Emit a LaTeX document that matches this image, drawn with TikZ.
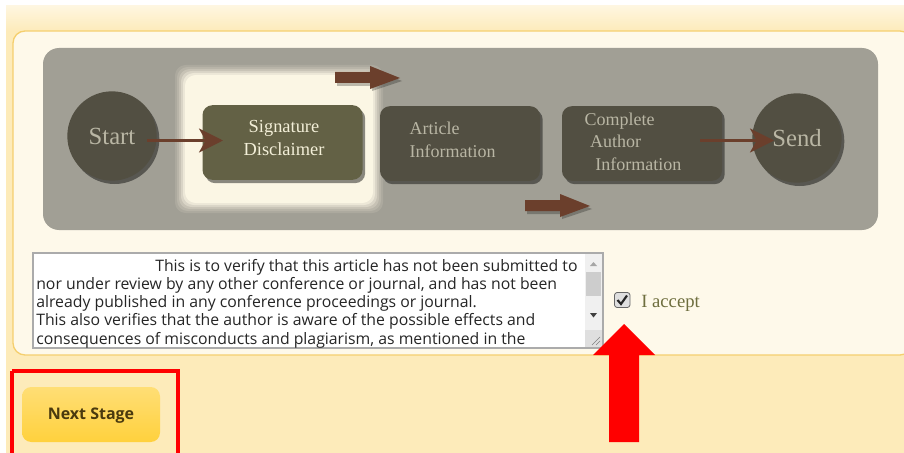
\documentclass[tikz,border=0pt]{standalone}
\usepackage{fontspec}
\setmainfont{Liberation Serif}
\newfontfamily\uifont{Open Sans}
\usetikzlibrary{arrows.meta,shadows,shapes.geometric}
\definecolor{bgyel}{HTML}{FDEBBA}
\definecolor{bandtop}{HTML}{FEF6E0}
\definecolor{panelfill}{HTML}{FEF9EA}
\definecolor{panelline}{HTML}{F5CF6E}
\definecolor{greybg}{HTML}{A19F95}
\definecolor{darkshape}{HTML}{524F42}
\definecolor{olive}{HTML}{636145}
\definecolor{greytext}{HTML}{B9B6A4}
\definecolor{creamtext}{HTML}{F3EFD8}
\definecolor{arrowbrown}{HTML}{6B3F2C}
\definecolor{glow}{HTML}{FDF8E6}
\definecolor{acceptcol}{HTML}{6E6E3E}
\definecolor{btntop}{HTML}{FFDE75}
\definecolor{btnbot}{HTML}{FFD13D}
\definecolor{btntext}{HTML}{4A3A0E}
\definecolor{taborder}{HTML}{ABABAB}
\definecolor{scrollbg}{HTML}{F0F0F0}
\definecolor{thumb}{HTML}{CDCDCD}
\tikzset{
  stage/.style={draw=none, fill=darkshape, rounded corners=7.5pt, minimum width=120pt, minimum height=56pt,
    drop shadow={shadow xshift=2pt, shadow yshift=-2.5pt, opacity=0.45, fill=black}},
  roundstage/.style={circle, fill=darkshape, minimum size=67pt, inner sep=0pt,
    drop shadow={shadow xshift=2pt, shadow yshift=-2.5pt, opacity=0.45, fill=black}},
  stagetext/.style={text=greytext, font=\fontsize{13.5}{17}\selectfont},
  thinarrow/.style={draw=arrowbrown, line width=2.2pt, -{Stealth[length=18pt, width=18pt, inset=5pt]}},
  fatarrow/.style={fill=arrowbrown, draw=none},
  tatext/.style={font=\uifont\fontsize{11.85}{13.6}\selectfont, text=black!85, anchor=west, inner sep=0pt},
}
\begin{document}
\begin{tikzpicture}[x=0.75pt, y=-0.75pt]
\useasboundingbox (0,0) rectangle (904,453);
% page background
\fill[white] (0,0) rectangle (904,453);
\fill[bgyel] (6,6) rectangle (904,453);
\shade[top color=bandtop, bottom color=bgyel] (6,6) rectangle (904,31);
% panel
\draw[panelline, line width=1pt, fill=panelfill, rounded corners=9pt] (13,31) rectangle (912,355);
% grey diagram area
\fill[greybg, rounded corners=12pt] (43,48) rectangle (878,230);
% glow behind current stage
\foreach \d/\o in {10/0.12,8/0.15,6/0.22,4/0.35,2/0.55,0/0.9}
  \fill[glow, opacity=\o, rounded corners=8pt] (185-\d,75-\d) rectangle (373+\d,203+\d);
% stages
\node[roundstage] (start) at (112,136) {};
\node[stagetext, font=\fontsize{18.5}{20}\selectfont] at (start) {Start};
\node[stage, fill=olive] (sig) at (282.5,142.5) {};
\node[text=creamtext, font=\fontsize{13.8}{17.5}\selectfont, align=center] (sigtext) at (284,138) {Signature\\Disclaimer};
\node[stage] (art) at (460,143.5) {};
\node[stagetext, align=left, anchor=west] (arttext) at (405,140) {Article\\Information};
\node[stage] (comp) at (642,143.5) {};
\node[stagetext, align=left, anchor=north west] (comptext) at (580,108) {Complete\\\hspace*{4pt}Author\\\hspace*{8pt}Information};
\node[roundstage] (send) at (797,138) {};
\node[stagetext, font=\fontsize{18.5}{20}\selectfont] at (send) {Send};
% connectors
\coordinate (a1s) at (147,140.5);
\coordinate (a1e) at (223,140.5);
\draw[thinarrow] (a1s) -- (a1e);
\coordinate (a2s) at (700,140.5);
\coordinate (a2e) at (774,140.5);
\draw[thinarrow] (a2s) -- (a2e);
% thick arrows
\fill[black, opacity=0.25] (337,75) -- (372,75) -- (372,69) -- (402,81) -- (372,91) -- (372,86) -- (337,86) -- cycle;
\fill[fatarrow] (335,72) -- (370,72) -- (370,66) -- (400,78) -- (370,89) -- (370,83) -- (335,83) -- cycle;
\fill[black, opacity=0.25] (527,203) -- (562,203) -- (562,197) -- (592,209) -- (562,219) -- (562,214) -- (527,214) -- cycle;
\fill[fatarrow] (525,200) -- (560,200) -- (560,194) -- (590,206) -- (560,217) -- (560,211) -- (525,211) -- cycle;
% textarea
\draw[taborder, fill=white, line width=0.8pt] (33,253) rectangle (603,348);
\fill[scrollbg] (585,254) rectangle (602,347);
\fill[thumb] (586,272) rectangle (601,296);
\fill[gray!70] (590,266) -- (597,266) -- (593.5,262) -- cycle;
\fill[black!75] (590,313) -- (597,313) -- (593.5,317.5) -- cycle;
\fill[gray!25] (585,330) rectangle (602,347);
\draw[gray, line width=0.5pt] (592,345) -- (600,337) (596,345) -- (600,341);
\begin{scope}
\clip (34,254) rectangle (584,347);
\node[tatext] (l1) at (155,267.5) {This is to verify that this article has not been submitted to};
\node[tatext] (l2) at (36,285.5) {nor under review by any other conference or journal, and has not been};
\node[tatext] (l3) at (36,303.5) {already published in any conference proceedings or journal.};
\node[tatext] (l4) at (36,321.5) {This also verifies that the author is aware of the possible effects and};
\node[tatext] (l5) at (36,340) {consequences of misconducts and plagiarism, as mentioned in the};
\end{scope}
% checkbox
\draw[gray!80!black, fill=gray!25, rounded corners=2pt, line width=0.6pt] (614.5,292.5) rectangle (630,307.5);
\draw[black!85, line width=1.6pt] (617.5,300) -- (621,304) -- (627,295.5);
\node[text=acceptcol, font=\fontsize{14}{16}\selectfont, anchor=west, inner sep=0pt] (accept) at (641,303) {I accept};
% red up arrow
\fill[red] (624,324) -- (655,355) -- (639,355) -- (639,442) -- (609,442) -- (609,355) -- (593,355) -- cycle;
% next stage button
\draw[red, line width=2.6pt] (12,371) -- (178,371) -- (178,460);
\draw[red, line width=2.6pt] (12,371) -- (12,460);
\shade[top color=btntop, bottom color=btnbot, rounded corners=7pt] (22,387) rectangle (160,442);
\node[font=\fontspec{Open Sans}\bfseries\fontsize{12}{14}\selectfont, text=btntext] (next) at (91,415.5) {Next Stage};
\end{tikzpicture}
\end{document}
